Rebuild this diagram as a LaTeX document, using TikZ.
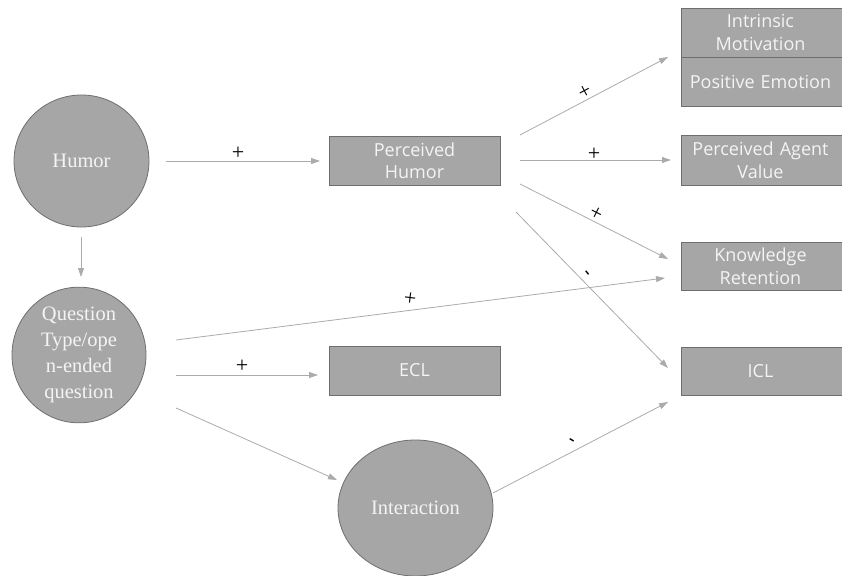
\documentclass[tikz,border=0pt]{standalone}
\usepackage{fontspec}
\setmainfont{Liberation Serif}
\newfontfamily\boxfont{Open Sans}
\usetikzlibrary{shapes.geometric,arrows.meta}
\definecolor{fillg}{HTML}{A6A6A6}
\definecolor{edgeg}{HTML}{6E6E6E}
\definecolor{arrg}{HTML}{ABABAB}
\definecolor{txtw}{HTML}{F4F4F4}
\tikzset{
  boxnode/.style={draw=edgeg, line width=0.9pt, fill=fillg, text=txtw, inner sep=0pt,
    font=\boxfont\fontsize{18}{22.5}\selectfont, align=center},
  circnode/.style={ellipse, draw=edgeg, line width=0.8pt, fill=fillg, text=txtw, inner sep=0pt,
    font=\fontsize{20.5}{26}\selectfont, align=center},
  conn/.style={draw=arrg, line width=0.8pt, -{Triangle[length=9pt,width=6pt]}},
  sign/.style={font=\fontsize{22}{22}\selectfont, text=black, inner sep=0pt},
  dashsign/.style={font=\bfseries\fontsize{18}{18}\selectfont, text=black, inner sep=0pt}
}
\begin{document}
\begin{tikzpicture}[x=1pt,y=-1pt]
\useasboundingbox (0,0) rectangle (842,575);
% circles
\node[circnode, minimum width=135pt, minimum height=132pt] (humor) at (81.5,161) {Humor};
\node[circnode, minimum width=134pt, minimum height=130pt] (qt) at (79,355) {Question\\Type/ope\\n-ended\\question};
\node[circnode, minimum width=155pt, minimum height=136pt] (inter) at (415.5,508) {Interaction};
% boxes
\node[boxnode, minimum width=171pt, minimum height=49pt] (ph) at (414.5,160.5) {Perceived\\Humor};
\node[boxnode, minimum width=171pt, minimum height=49pt] (ecl) at (414.5,370.5) {ECL};
\node[boxnode, minimum width=169pt, minimum height=49pt, text width=160pt] (im) at (765.5,32.5) {\hspace*{-10pt}Intrinsic\\\hspace*{-10pt}Motivation};
\node[boxnode, minimum width=169pt, minimum height=49pt, text width=160pt] (pe) at (765.5,81.5) {\hspace*{-10pt}Positive Emotion};
\node[boxnode, minimum width=169pt, minimum height=50pt, text width=160pt] (pav) at (765.5,160) {\hspace*{-10pt}Perceived Agent\\\hspace*{-10pt}Value};
\node[boxnode, minimum width=169pt, minimum height=48pt, text width=160pt] (kr) at (765.5,266) {\hspace*{-10pt}Knowledge\\\hspace*{-10pt}Retention};
\node[boxnode, minimum width=169pt, minimum height=48pt, text width=160pt] (icl) at (765.5,371) {\hspace*{-10pt}ICL};
% connector end points
\coordinate (h1) at (166,161);  \coordinate (h2) at (320,161);
\coordinate (d1) at (81,237);   \coordinate (d2) at (81,277);
\coordinate (p1) at (520,135);  \coordinate (p1e) at (668,57);
\coordinate (p2) at (520,160);  \coordinate (p2e) at (671,160);
\coordinate (p3) at (520,184);  \coordinate (p3e) at (668,259);
\coordinate (p4) at (516,212);  \coordinate (p4e) at (668,368);
\coordinate (q1) at (176,340);  \coordinate (q1e) at (665,278);
\coordinate (q2) at (176,375);  \coordinate (q2e) at (318,375);
\coordinate (q3) at (176,408);  \coordinate (q3e) at (337,480);
\coordinate (i1) at (493,493);  \coordinate (i1e) at (668,402);
% connectors
\draw[conn] (h1) -- (h2);
\draw[conn] (d1) -- (d2);
\draw[conn] (p1) -- (p1e);
\draw[conn] (p2) -- (p2e);
\draw[conn] (p3) -- (p3e);
\draw[conn] (p4) -- (p4e);
\draw[conn] (q1) -- (q1e);
\draw[conn] (q2) -- (q2e);
\draw[conn] (q3) -- (q3e);
\draw[conn] (i1) -- (i1e);
% signs
\node[sign] (s1) at (238,153) {+};
\node[sign, rotate=28] (s2) at (585,92) {+};
\node[sign] (s3) at (594,154) {+};
\node[sign, rotate=-27] (s4) at (596,214) {+};
\node[dashsign, rotate=-50] (s5) at (586,274) {-};
\node[sign, rotate=-7] (s6) at (410,299) {+};
\node[sign] (s7) at (242,366) {+};
\node[dashsign, rotate=-30] (s8) at (571,442) {-};
\end{tikzpicture}
\end{document}
